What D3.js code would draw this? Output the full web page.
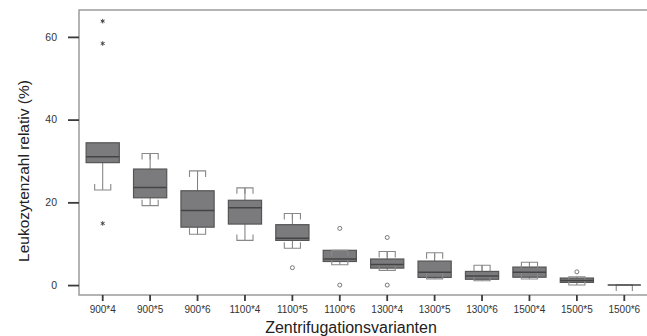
<!DOCTYPE html>
<html><head><meta charset="utf-8">
<script src="https://cdn.jsdelivr.net/npm/d3@7/dist/d3.min.js"></script>
<style>body{margin:0;background:#fff}svg{display:block}text{font-family:"Liberation Sans",Arial,sans-serif}</style>
</head><body>
<script>
const categories = ["900*4","900*5","900*6","1100*4","1100*5","1100*6","1300*4","1300*5","1300*6","1500*4","1500*5","1500*6"];
const q1 =        [29.6, 21.1, 14.0, 14.75, 10.8, 5.7, 4.1, 1.85, 1.4, 1.9, 0.65, 0];
const median =    [31.0, 23.6, 18.0, 18.7, 11.3, 6.3, 5.0, 3.1, 2.2, 3.1, 1.1, 0];
const q3 =        [34.4, 28.05, 22.8, 20.5, 14.6, 8.4, 6.3, 5.8, 3.3, 4.35, 1.7, 0];
const whiskerLow =  [23.0, 19.2, 12.3, 10.8, 8.9, 4.9, 3.55, 1.5, 1.05, 1.45, 0.0, null];
const whiskerHigh = [null, 31.8, 27.6, 23.5, 17.3, 8.4, 8.1, 7.8, 4.8, 5.5, 2.0, 0];
const outliersCircle = [[], [], [], [], [4.2], [13.7, 0], [11.5, 0], [], [], [], [3.2], []];
const outliersStar =   [[63.8, 58.4, 14.9], [], [], [], [], [], [], [], [], [], [], []];
const yTicks = [0, 20, 40, 60];

const W = 647, H = 336;
const svg = d3.select("body").append("svg").attr("width", W).attr("height", H);
const mLeft = 79, mTop = 10, mBottom = 295, mRight = 648;
const x = d3.scaleBand().domain(categories).range([mLeft, mRight]).padding(0);
const y = d3.scaleLinear().domain([-2.4, 66.5]).range([mBottom, mTop]);
const bw = x.bandwidth();
const boxW = bw * 0.7, capW = bw * 0.34, tickLen = 6;

// frame
svg.append("path").attr("d", `M${mRight},${mTop}H${mLeft}V${mBottom}H${mRight}`)
  .attr("fill", "none").attr("stroke", "#9c9c9c").attr("stroke-width", 1.5);

// y axis
const ya = svg.append("g").attr("transform", `translate(${mLeft},0)`)
  .call(d3.axisLeft(y).tickValues(yTicks).tickSize(11).tickPadding(11));
ya.select(".domain").remove();
ya.selectAll("line").attr("stroke", "#3a3a3a").attr("stroke-width", 1.8);
ya.selectAll("text").attr("font-size", 10.5).attr("fill", "#333").style("font-family", "'Liberation Sans',Arial,sans-serif");

// x axis
const xa = svg.append("g").attr("transform", `translate(0,${mBottom})`)
  .call(d3.axisBottom(x).tickSize(6).tickPadding(5));
xa.select(".domain").remove();
xa.selectAll("line").attr("stroke", "#3a3a3a").attr("stroke-width", 1.8);
xa.selectAll("text").attr("font-size", 10).attr("fill", "#333").style("font-family", "'Liberation Sans',Arial,sans-serif");

// boxes
const g = svg.append("g");
categories.forEach((c, i) => {
  const cx = x(c) + bw / 2;
  const wc = "#7a7a7a";
  if (whiskerHigh[i] !== null) {
    const yc = y(whiskerHigh[i]);
    g.append("line").attr("x1", cx).attr("x2", cx).attr("y1", y(q3[i])).attr("y2", yc).attr("stroke", wc);
  }
  if (whiskerLow[i] !== null) {
    const yc = y(whiskerLow[i]);
    g.append("line").attr("x1", cx).attr("x2", cx).attr("y1", y(q1[i])).attr("y2", yc).attr("stroke", wc);
  }
  g.append("rect").attr("x", cx - boxW / 2).attr("width", boxW)
    .attr("y", y(q3[i])).attr("height", Math.max(0, y(q1[i]) - y(q3[i])))
    .attr("fill", "#7b7b7e").attr("stroke", "#555").attr("stroke-width", 1.2);
  if (whiskerHigh[i] !== null) {
    const yc = y(whiskerHigh[i]);
    g.append("path").attr("d", `M${cx - capW/2},${yc + tickLen}V${yc}H${cx + capW/2}V${yc + tickLen}M${cx},${yc}V${Math.min(yc + tickLen, y(q3[i]))}`)
      .attr("fill", "none").attr("stroke", "#888").attr("stroke-width", 1.1);
  }
  if (whiskerLow[i] !== null) {
    const yc = y(whiskerLow[i]);
    g.append("path").attr("d", `M${cx - capW/2},${yc - tickLen}V${yc}H${cx + capW/2}V${yc - tickLen}`)
      .attr("fill", "none").attr("stroke", "#888").attr("stroke-width", 1.1);
  }
  g.append("line").attr("x1", cx - boxW / 2).attr("x2", cx + boxW / 2)
    .attr("y1", y(median[i])).attr("y2", y(median[i])).attr("stroke", "#444").attr("stroke-width", 1.5);
  outliersCircle[i].forEach(v => {
    g.append("circle").attr("cx", cx).attr("cy", y(v)).attr("r", 2)
      .attr("fill", "none").attr("stroke", "#777").attr("stroke-width", 1);
  });
  outliersStar[i].forEach(v => {
    g.append("path").attr("transform", `translate(${cx},${y(v)})`)
      .attr("d", d3.symbol(d3.symbolAsterisk, 14)())
      .attr("fill", "none").attr("stroke", "#444").attr("stroke-width", 1);
  });
});

svg.append("text").attr("x", 351).attr("y", 333).attr("text-anchor", "middle")
  .attr("font-size", 16).attr("fill", "#222").text("Zentrifugationsvarianten");
svg.append("text").attr("transform", "translate(29,171) rotate(-90)").attr("text-anchor", "middle")
  .attr("font-size", 15.5).attr("fill", "#222").text("Leukozytenzahl relativ (%)");
</script>
</body></html>
